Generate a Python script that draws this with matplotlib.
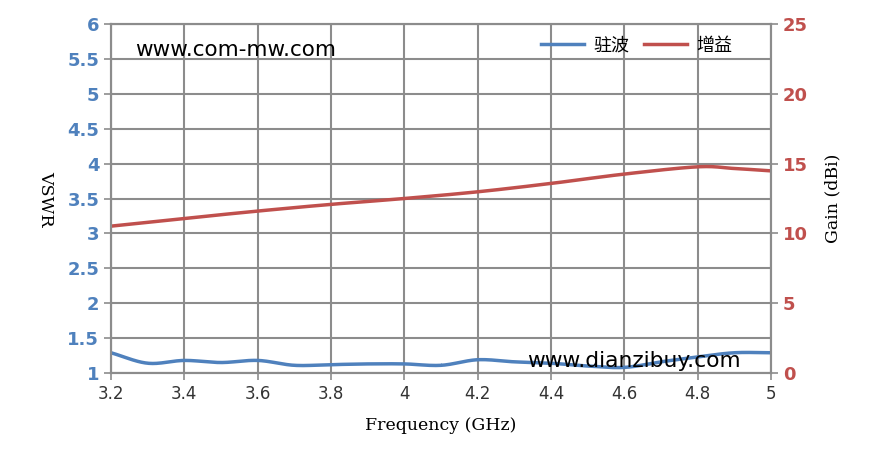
import numpy as np
import matplotlib.pyplot as plt

# values
freq_vswr = [3.2, 3.3, 3.4, 3.5, 3.6, 3.7, 3.8, 3.9, 4.0, 4.1, 4.2, 4.3, 4.4, 4.5, 4.6, 4.7, 4.8, 4.9, 5.0]
vswr = [1.29, 1.14, 1.18, 1.15, 1.18, 1.11, 1.12, 1.13, 1.13, 1.11, 1.19, 1.16, 1.14, 1.10, 1.08, 1.16, 1.23, 1.29, 1.29]
freq_gain = [3.2, 3.4, 3.6, 3.8, 4.0, 4.2, 4.4, 4.6, 4.8, 4.9, 5.0]
gain = [10.52, 11.07, 11.6, 12.08, 12.5, 12.98, 13.58, 14.25, 14.77, 14.65, 14.48]

xticks = [3.2, 3.4, 3.6, 3.8, 4.0, 4.2, 4.4, 4.6, 4.8, 5.0]
xticklabels = ['3.2', '3.4', '3.6', '3.8', '4', '4.2', '4.4', '4.6', '4.8', '5']
vswr_ticks = [1, 1.5, 2, 2.5, 3, 3.5, 4, 4.5, 5, 5.5, 6]
gain_ticks = [0, 5, 10, 15, 20, 25]

blue = '#4F81BD'
red = '#C0504D'
grid_c = '#8C8C8C'
cjk = ['Noto Sans CJK SC', 'DejaVu Sans']


def smooth(x, y):
    # Catmull-Rom style smoothing like the spreadsheet curve
    x = np.asarray(x, float)
    y = np.asarray(y, float)
    px = np.concatenate([[2 * x[0] - x[1]], x, [2 * x[-1] - x[-2]]])
    py = np.concatenate([[2 * y[0] - y[1]], y, [2 * y[-1] - y[-2]]])
    t = np.linspace(0, 1, 30)
    f = lambda a, b, c, d: 0.5 * (2 * b + (-a + c) * t + (2 * a - 5 * b + 4 * c - d) * t ** 2 + (-a + 3 * b - 3 * c + d) * t ** 3)
    xs, ys = [], []
    for i in range(1, len(px) - 2):
        xs.append(f(*px[i - 1:i + 3]))
        ys.append(f(*py[i - 1:i + 3]))
    return np.concatenate(xs), np.concatenate(ys)


fig = plt.figure(figsize=(8.79, 4.69), dpi=100)
ax = fig.add_axes([0.1263, 0.2047, 0.7508, 0.7441])
ax2 = ax.twinx()

sx, sy = smooth(freq_vswr, vswr)
l1, = ax.plot(sx, sy, color=blue, lw=2.5, label='驻波')
gx, gy = smooth(freq_gain, gain)
l2, = ax2.plot(gx, gy, color=red, lw=2.5, label='增益')

ax.set_xlim(3.2, 5.0)
ax.set_ylim(1, 6)
ax2.set_ylim(0, 25)
ax.set_xticks(xticks)
ax.set_xticklabels(xticklabels)
ax.set_yticks(vswr_ticks)
ax.set_yticklabels(['1', '1.5', '2', '2.5', '3', '3.5', '4', '4.5', '5', '5.5', '6'])
ax2.set_yticks(gain_ticks)

ax.grid(True, color=grid_c, lw=1.5)
ax.set_axisbelow(True)
for a in (ax, ax2):
    for s in a.spines.values():
        s.set_color(grid_c)
        s.set_linewidth(1.5)

ax.tick_params(axis='x', colors=grid_c, labelcolor='#333333', labelsize=12, length=5, width=1.2)
ax.tick_params(axis='y', colors=grid_c, labelcolor=blue, labelsize=13, length=5, width=1.2)
ax2.tick_params(axis='y', colors=grid_c, labelcolor=red, labelsize=13, length=5, width=1.2)
for lab in ax.get_yticklabels() + ax2.get_yticklabels():
    lab.set_fontweight('bold')

ax.set_xlabel('Frequency (GHz)', fontsize=12.5, family='DejaVu Serif', labelpad=10)
ax.set_ylabel('VSWR', fontsize=12.5, family='DejaVu Serif', rotation=270, labelpad=22)
ax2.set_ylabel('Gain (dBi)', fontsize=12.5, family='DejaVu Serif', labelpad=12)

leg = ax.legend(handles=[l1, l2], loc='upper right', ncol=2, frameon=False,
                prop={'family': cjk, 'size': 13}, handlelength=2.4, handletextpad=0.5,
                columnspacing=0.8, bbox_to_anchor=(0.96, 1.0), borderaxespad=0.3)

ax.text(0.037, 0.955, 'www.com-mw.com', transform=ax.transAxes, fontsize=15.5, va='top')
ax.text(0.63, 0.005, 'www.dianzibuy.com', transform=ax.transAxes, fontsize=15.7, va='bottom', zorder=5)

fig.savefig('out.png', dpi=100)
